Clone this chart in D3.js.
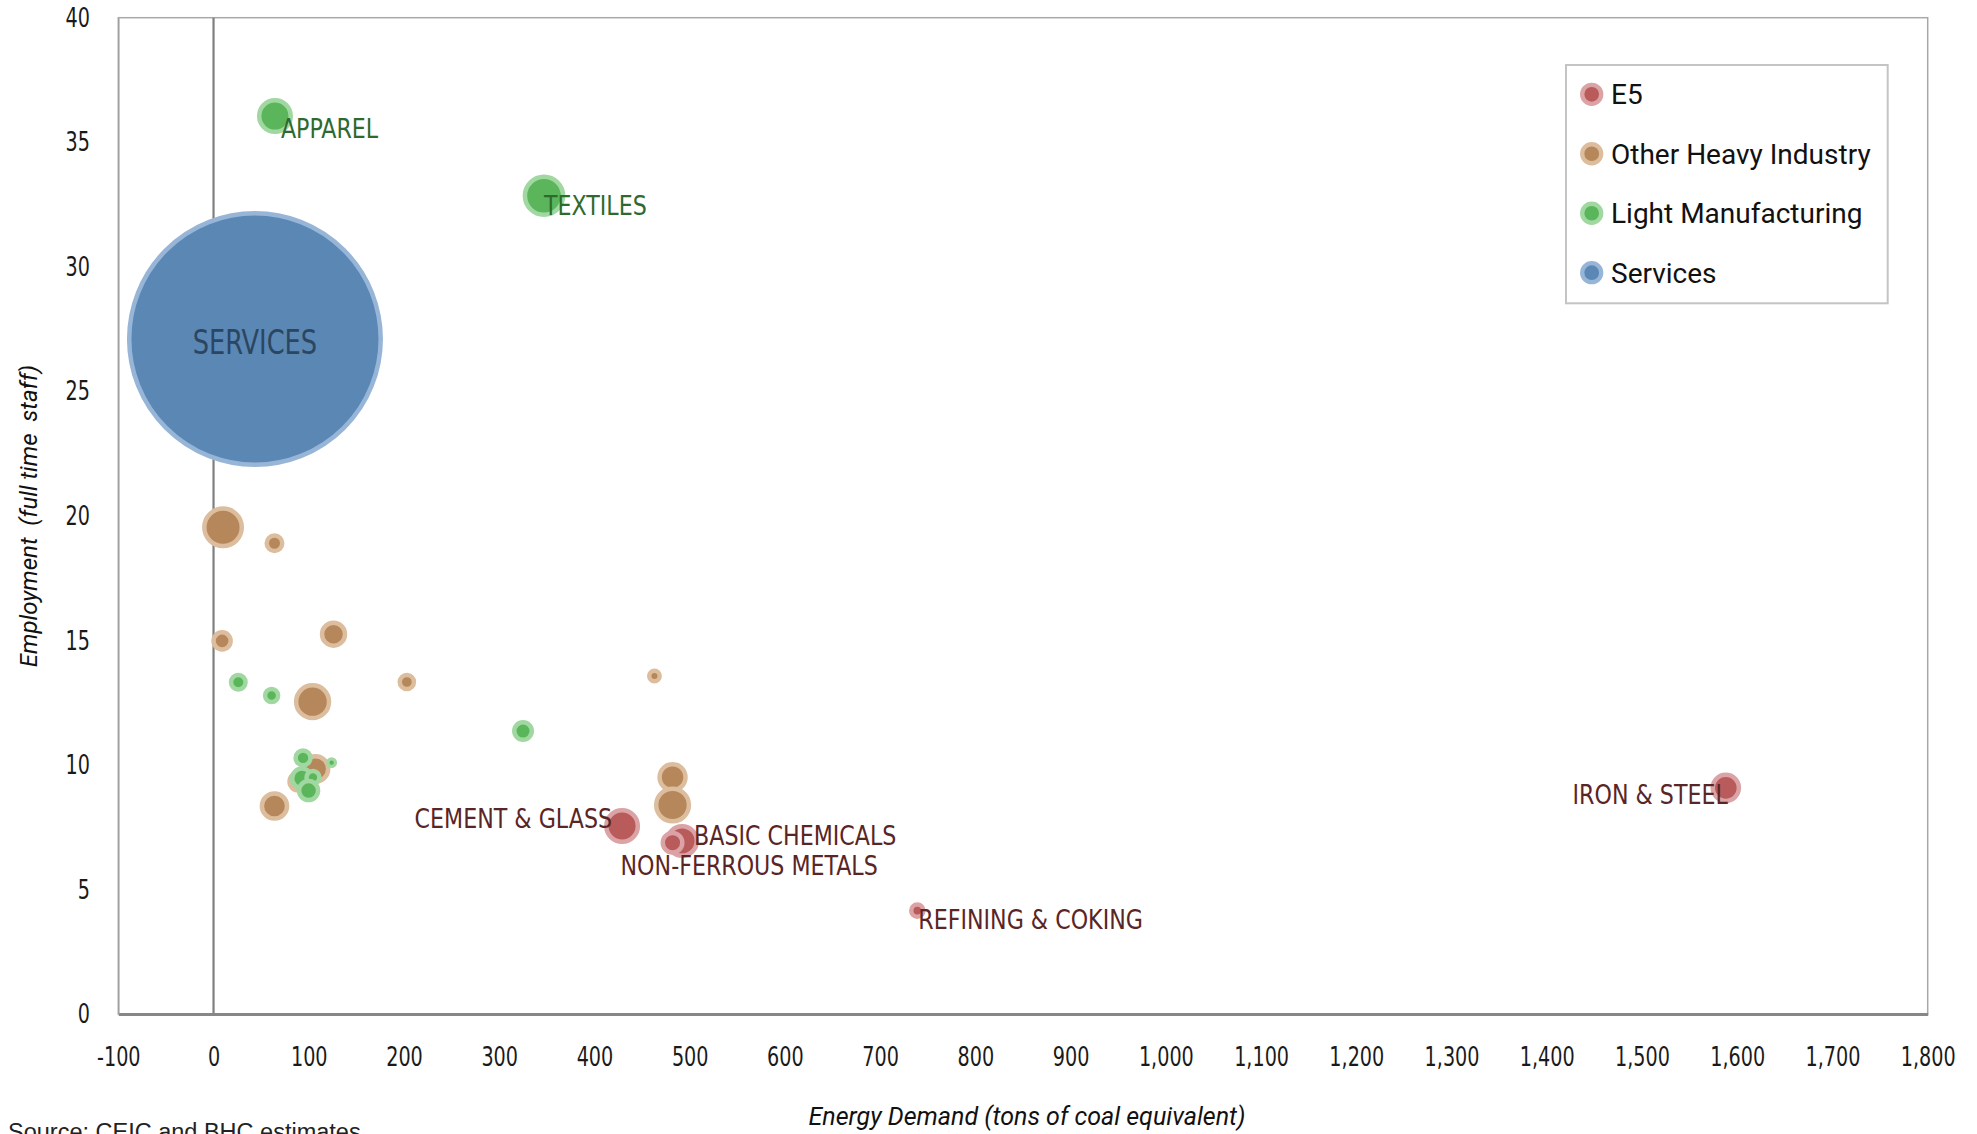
<!DOCTYPE html>
<html><head><meta charset="utf-8">
<script src="https://cdn.jsdelivr.net/npm/d3@7"></script>
<style>body{margin:0;background:#fff}svg{display:block}</style>
</head><body><svg id="chart" width="1977" height="1134"></svg>
<script>
// ---------- data ----------
const seriesNames = ["E5", "Other Heavy Industry", "Light Manufacturing", "Services"];

const e5Labels     = ["CEMENT & GLASS", "BASIC CHEMICALS", "NON-FERROUS METALS", "REFINING & COKING", "IRON & STEEL"];
const e5Energy     = [429, 492, 482, 739, 1588];
const e5Employment = [7.55, 6.95, 6.88, 4.15, 9.08];
const e5Size       = [1.98, 1.76, 0.88, 0.42, 1.43];

const heavyLabels     = ["", "", "", "", "", "", "", "", "", "", "", ""];
const heavyEnergy     = [10, 64, 9, 126, 104, 203, 463, 107, 89, 64, 482, 482];
const heavyEmployment = [19.54, 18.9, 14.98, 15.25, 12.54, 13.33, 13.57, 9.84, 9.33, 8.35, 9.51, 8.39];
const heavySize       = [2.69, 0.61, 0.71, 1.15, 2.13, 0.53, 0.34, 1.37, 0.74, 1.34, 1.41, 2.11];

const lightLabels     = ["APPAREL", "TEXTILES", "", "", "", "", "", "", "", ""];
const lightEnergy     = [64.5, 347, 26, 61, 325, 92.8, 94, 124, 104.4, 99.8];
const lightEmployment = [36.05, 32.85, 13.32, 12.79, 11.36, 9.46, 10.28, 10.09, 9.5, 8.97];
const lightSize       = [1.98, 2.77, 0.55, 0.47, 0.74, 0.88, 0.57, 0.18, 0.46, 0.84];

const servLabels     = ["SERVICES"];
const servEnergy     = [43.5];
const servEmployment = [27.1];
const servSize       = [100];

const xTickValues = [-100,0,100,200,300,400,500,600,700,800,900,1000,1100,1200,1300,1400,1500,1600,1700,1800];
const xTickLabels = ["-100","0","100","200","300","400","500","600","700","800","900","1,000","1,100","1,200","1,300","1,400","1,500","1,600","1,700","1,800"];
const yTickValues = [0,5,10,15,20,25,30,35,40];
const yTickLabels = ["0","5","10","15","20","25","30","35","40"];

const xTitle = "Energy Demand (tons of coal equivalent)";
const yTitle = "Employment  (full time  staff)";
const sourceText = "Source: CEIC and BHC estimates";

// ---------- styles ----------
const fills  = {"E5":"#b95b5b","Other Heavy Industry":"#b5875a","Light Manufacturing":"#5bb65b","Services":"#5b87b5"};
const halos  = {"E5":"#dba3a5","Other Heavy Industry":"#dcbd9d","Light Manufacturing":"#a1d8a1","Services":"#97b5d7"};
const labelColors = {"E5":"#5a2525","Other Heavy Industry":"#5a3b20","Light Manufacturing":"#2e6a2e","Services":"#2b4660"};
const labelPlacement = {
  "CEMENT & GLASS":    {anchor:"end",   dx:-10, dy:2},
  "BASIC CHEMICALS":   {anchor:"start", dx:12,  dy:4},
  "NON-FERROUS METALS":{anchor:"start", dx:-52, dy:32},
  "REFINING & COKING": {anchor:"start", dx:1,   dy:18},
  "IRON & STEEL":      {anchor:"end",   dx:2,   dy:16},
  "APPAREL":           {anchor:"start", dx:6,   dy:22},
  "TEXTILES":          {anchor:"start", dx:0,   dy:19},
  "SERVICES":          {anchor:"middle",dx:0,   dy:15, size:33, sx:0.865}
};

const cond = "'DejaVu Sans Condensed','DejaVu Sans',sans-serif";
const sans = "Roboto,'Liberation Sans',Arial,sans-serif";
const tickFont = 27, tickSX = 0.79;
const labelFont = 26.5, labelSX = 0.93;

// ---------- build ----------
function build(name, labels, xs, ys, ss){
  return xs.map((v,i)=>({series:name, label:labels[i], energy:v, employment:ys[i], size:ss[i]}));
}
const groups = [
  build("E5", e5Labels, e5Energy, e5Employment, e5Size),
  build("Other Heavy Industry", heavyLabels, heavyEnergy, heavyEmployment, heavySize),
  build("Light Manufacturing", lightLabels, lightEnergy, lightEmployment, lightSize),
  build("Services", servLabels, servEnergy, servEmployment, servSize)
];

const svg = d3.select("#chart");
const L = 118.3, R = 1927.7, T = 17.7, B = 1014;
const x = d3.scaleLinear().domain([-100, 1800]).range([L, R]);
const y = d3.scaleLinear().domain([0, 40]).range([B, T]);
const rScale = d3.scaleSqrt().domain([0, 100]).range([0, 128]);

// frame
svg.append("rect").attr("x", L).attr("y", T).attr("width", R-L).attr("height", B-T)
  .attr("fill","none").attr("stroke","#a8a8a8").attr("stroke-width",1.5);

// zero line
svg.append("line").attr("x1", x(0)).attr("x2", x(0)).attr("y1", T).attr("y2", B)
  .attr("stroke","#7f7f7f").attr("stroke-width",2.2);

// axes
const xAxis = d3.axisBottom(x).tickValues(xTickValues).tickFormat((d,i)=>xTickLabels[i]).tickSize(0).tickPadding(33);
const gx = svg.append("g").attr("transform",`translate(0,${B})`).call(xAxis);
gx.select(".domain").attr("stroke","#878787").attr("stroke-width",3);
gx.selectAll("text").attr("font-family",cond).attr("font-size",tickFont).attr("fill","#1a1a1a")
  .attr("transform",`scale(${tickSX},1)`);

const yAxis = d3.axisLeft(y).tickValues(yTickValues).tickFormat((d,i)=>yTickLabels[i]).tickSize(0);
const gy = svg.append("g").attr("transform",`translate(${L},0)`).call(yAxis);
gy.select(".domain").attr("stroke","#a0a0a0").attr("stroke-width",1.5);
gy.selectAll("text").attr("font-family",cond).attr("font-size",tickFont).attr("fill","#1a1a1a")
  .attr("x",0).attr("transform",`translate(${90-L},0) scale(${tickSX},1)`);

// bubbles
const gb = svg.append("g");
groups.forEach(g=>{
  gb.selectAll(null).data(g).enter().append("circle")
    .attr("cx", d=>x(d.energy)).attr("cy", d=>y(d.employment))
    .attr("r", d=>{const o=rScale(d.size); const h=Math.min(4.5,o*0.6); return o-h/2;})
    .attr("stroke-width", d=>{const o=rScale(d.size); return Math.min(4.5,o*0.6);})
    .attr("fill", d=>fills[d.series]).attr("stroke", d=>halos[d.series]);
});

// labels
const all = groups.flat().filter(d=>d.label);
svg.append("g").selectAll("text").data(all).enter().append("text")
  .attr("transform", d=>{
    const p = labelPlacement[d.label];
    return `translate(${x(d.energy)+p.dx},${y(d.employment)+p.dy}) scale(${p.sx||labelSX},1)`;
  })
  .attr("text-anchor", d=>labelPlacement[d.label].anchor)
  .attr("font-family", cond)
  .attr("font-size", d=>labelPlacement[d.label].size || labelFont)
  .attr("fill", d=>labelColors[d.series])
  .text(d=>d.label);

// legend
const lg = svg.append("g");
lg.append("rect").attr("x",1566).attr("y",65).attr("width",321.7).attr("height",238.3)
  .attr("fill","#fff").attr("stroke","#c4c4c4").attr("stroke-width",2);
const ly = d3.scalePoint().domain(seriesNames).range([94.3, 272.7]);
seriesNames.forEach(s=>{
  lg.append("circle").attr("cx",1591.7).attr("cy",ly(s)).attr("r",9.5)
    .attr("fill",fills[s]).attr("stroke",halos[s]).attr("stroke-width",4.3);
  lg.append("text").attr("x",1611).attr("y",ly(s)).attr("dy","0.36em")
    .attr("font-family",sans).attr("font-size",28).attr("fill","#111").text(s);
});

// titles
svg.append("text").attr("x",1027).attr("y",1125).attr("text-anchor","middle")
  .attr("font-family",sans).attr("font-style","italic").attr("font-size",25).attr("fill","#111")
  .text(xTitle);
svg.append("text").attr("transform","translate(37,516) rotate(-90)").attr("text-anchor","middle")
  .style("white-space","pre")
  .attr("font-family",sans).attr("font-style","italic").attr("font-size",24).attr("fill","#111")
  .text(yTitle);
svg.append("text").attr("x",8).attr("y",1140)
  .attr("font-family","'Liberation Sans',Arial,sans-serif").attr("font-size",23.5).attr("fill","#222")
  .text(sourceText);
</script></body></html>
